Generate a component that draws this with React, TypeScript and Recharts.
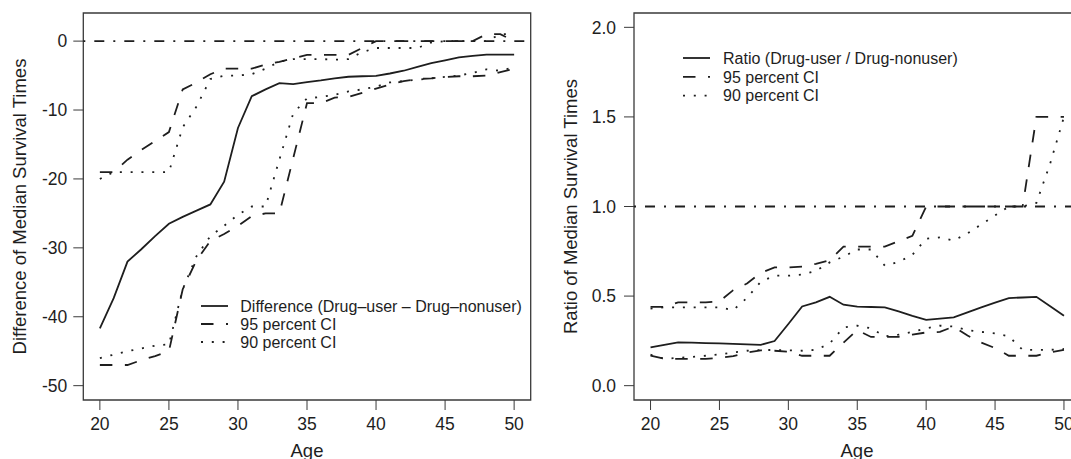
import React from 'react';
import { LineChart, Line, XAxis, YAxis, ReferenceLine, ReferenceArea, Legend } from 'recharts';

// ---------- data ----------
const AGES = [20, 21, 22, 23, 24, 25, 26, 27, 28, 29, 30, 31, 32, 33, 34, 35, 36, 37, 38, 39, 40, 41, 42, 43, 44, 45, 46, 47, 48, 49, 50];

// Left panel: difference of median survival times
const DIFF_EST = [-41.7, -37.3, -32.0, -30.2, -28.3, -26.5, -25.5, -24.6, -23.7, -20.4, -12.6, -8.0, -7.0, -6.1, -6.25, -5.95, -5.7, -5.4, -5.17, -5.1, -5.05, -4.7, -4.3, -3.75, -3.2, -2.8, -2.37, -2.15, -1.95, -1.95, -1.95];
const DIFF_U95 = [-19, -19, -17.2, -15.8, -14.5, -13.2, -7, -6, -4.8, -4, -4, -4, -3.4, -3, -2.5, -2, -2, -2, -2, -1, 0, 0, 0, 0, 0, 0, 0, 0, 1, 1, 0];
const DIFF_L95 = [-47, -47, -47, -46.3, -45.7, -45, -36, -31.8, -29, -28, -26.8, -25.4, -25, -25, -17, -9, -9, -8.2, -8.1, -7.5, -6.9, -6.3, -5.8, -5.5, -5.4, -5.2, -5.1, -5.1, -5.0, -4.5, -4.0];
const DIFF_U90 = [-20, -19, -19, -19, -19, -19, -12.5, -9.5, -5.5, -5.0, -5.0, -4.8, -4.0, -3.0, -2.6, -2.6, -2.6, -2.7, -2.6, -1.6, -1.0, -1.0, -1.0, -1.0, -0.2, 0, 0, 0, 0, 1, 1];
const DIFF_L90 = [-46, -45.5, -45, -44.6, -44.2, -44, -36, -31.2, -28.3, -26.8, -25.2, -24, -24, -17.2, -10.5, -8.3, -8.1, -7.8, -7.3, -7.0, -6.6, -6.0, -5.8, -5.6, -5.4, -5.2, -5.0, -4.6, -4.1, -4.3, -3.8];

// Right panel: ratio of median survival times
const RATIO_EST = [0.214, 0.228, 0.242, 0.24, 0.238, 0.236, 0.233, 0.23, 0.228, 0.249, 0.344, 0.442, 0.465, 0.496, 0.452, 0.441, 0.439, 0.437, 0.415, 0.39, 0.367, 0.374, 0.381, 0.409, 0.437, 0.463, 0.489, 0.492, 0.496, 0.443, 0.39];
const RATIO_U95 = [0.44, 0.44, 0.465, 0.465, 0.465, 0.47, 0.533, 0.57, 0.63, 0.66, 0.66, 0.665, 0.68, 0.70, 0.776, 0.776, 0.776, 0.776, 0.806, 0.836, 1.0, 1.0, 1.0, 1.0, 1.0, 1.0, 1.0, 1.0, 1.5, 1.5, 1.5];
const RATIO_L95 = [0.167, 0.15, 0.149, 0.149, 0.149, 0.155, 0.165, 0.185, 0.197, 0.195, 0.19, 0.167, 0.167, 0.167, 0.24, 0.31, 0.272, 0.272, 0.273, 0.285, 0.297, 0.3, 0.33, 0.28, 0.24, 0.21, 0.167, 0.167, 0.167, 0.185, 0.2];
const RATIO_U90 = [0.43, 0.437, 0.437, 0.437, 0.437, 0.437, 0.422, 0.49, 0.58, 0.614, 0.614, 0.62, 0.64, 0.688, 0.72, 0.76, 0.76, 0.67, 0.69, 0.73, 0.82, 0.828, 0.81, 0.85, 0.9, 0.95, 1.0, 1.0, 1.02, 1.24, 1.5];
const RATIO_L90 = [0.173, 0.15, 0.155, 0.16, 0.167, 0.175, 0.185, 0.195, 0.199, 0.199, 0.197, 0.195, 0.2, 0.235, 0.325, 0.335, 0.32, 0.275, 0.285, 0.3, 0.32, 0.335, 0.33, 0.31, 0.3, 0.292, 0.275, 0.2, 0.2, 0.2, 0.205];

const X_TICKS = [20, 25, 30, 35, 40, 45, 50];
const DIFF_TICKS = [-50, -40, -30, -20, -10, 0];
const RATIO_TICKS = [0, 0.5, 1, 1.5, 2];

const DIFF_LEGEND = ['Difference (Drug\u2013user \u2013 Drug\u2013nonuser)', '95 percent CI', '90 percent CI'];
const RATIO_LEGEND = ['Ratio (Drug-user / Drug-nonuser)', '95 percent CI', '90 percent CI'];

// ---------- styles ----------
const FONT = '"Liberation Sans", Arial, Helvetica, sans-serif';
const INK = '#1e1e1e';
const BOX = '#3a3a3a';
const DASH = '12.5 12.5';
const DOT = '2 8.8';
const DOTDASH = '2 9 10 9';
const LW = 1.8;
const LEGEND_STYLES = [undefined, DASH, DOT];

const X_DOMAIN: [number, number] = [18.8, 51.2];
const DIFF_DOMAIN: [number, number] = [-52.08, 4.08];
const RATIO_DOMAIN: [number, number] = [-0.08, 2.08];

function buildRows(est: number[], u95: number[], l95: number[], u90: number[], l90: number[]) {
  return AGES.map((age, i) => ({ age, est: est[i], u95: u95[i], l95: l95[i], u90: u90[i], l90: l90[i] }));
}

const diffRows = buildRows(DIFF_EST, DIFF_U95, DIFF_L95, DIFF_U90, DIFF_L90);
const ratioRows = buildRows(RATIO_EST, RATIO_U95, RATIO_L95, RATIO_U90, RATIO_L90);

const AxisTitle = (props: any) => {
  const { px, py, rot, text } = props;
  return (
    <text
      x={px}
      y={py}
      transform={rot ? `rotate(${rot} ${px} ${py})` : undefined}
      textAnchor="middle"
      fontFamily={FONT}
      fontSize={18.5}
      fill={INK}
    >
      {text}
    </text>
  );
};

const makeLegend = (labels: string[], rowGap: number, textX: number) => () => (
  <svg width={380} height={70} style={{ display: 'block', overflow: 'visible' }}>
    {labels.map((lab, i) => {
      const y = 8 + i * rowGap;
      return (
        <g key={lab + i}>
          <line x1={0} x2={27} y1={y} y2={y} stroke={INK} strokeWidth={LW} strokeDasharray={LEGEND_STYLES[i]} />
          <text x={textX} y={y} dy="0.36em" fontFamily={FONT} fontSize={16} fill={INK}>
            {lab}
          </text>
        </g>
      );
    })}
  </svg>
);

const tickStyle = { fill: INK, fontSize: 17.5, fontFamily: FONT };

export default function App() {
  return (
    <div style={{ position: 'absolute', left: 0, top: 0, width: 1071, height: 459, overflow: 'hidden', background: '#fff' }}>
      <div style={{ position: 'absolute', left: 0, top: 0 }}>
        <LineChart width={540} height={459} data={diffRows} margin={{ top: 13, right: 9.3, bottom: 0, left: 0 }}>
          <XAxis
            dataKey="age"
            type="number"
            domain={X_DOMAIN}
            ticks={X_TICKS}
            interval={0}
            allowDataOverflow
            axisLine={false}
            tickLine={{ stroke: BOX }}
            tickSize={10}
            tickMargin={8}
            tick={tickStyle}
            height={59}
            label={<AxisTitle px={307} py={457} text="Age" />}
          />
          <YAxis
            type="number"
            domain={DIFF_DOMAIN}
            ticks={DIFF_TICKS}
            interval={0}
            allowDataOverflow
            axisLine={false}
            tickLine={{ stroke: BOX }}
            tickSize={10}
            tickMargin={6}
            tick={tickStyle}
            width={83.3}
            label={<AxisTitle px={26} py={206.5} rot={-90} text="Difference of Median Survival Times" />}
          />
          <ReferenceArea x1={X_DOMAIN[0]} x2={X_DOMAIN[1]} y1={DIFF_DOMAIN[0]} y2={DIFF_DOMAIN[1]} fill="none" fillOpacity={0} stroke={BOX} strokeWidth={1.3} ifOverflow="visible" />
          <ReferenceLine y={0} stroke={INK} strokeWidth={LW} strokeDasharray={DOTDASH} />
          <Line type="linear" dataKey="est" stroke={INK} strokeWidth={LW} dot={false} activeDot={false} isAnimationActive={false} />
          <Line type="linear" dataKey="u95" stroke={INK} strokeWidth={LW} strokeDasharray={DASH} dot={false} activeDot={false} isAnimationActive={false} />
          <Line type="linear" dataKey="l95" stroke={INK} strokeWidth={LW} strokeDasharray={DASH} dot={false} activeDot={false} isAnimationActive={false} />
          <Line type="linear" dataKey="u90" stroke={INK} strokeWidth={LW} strokeDasharray={DOT} dot={false} activeDot={false} isAnimationActive={false} />
          <Line type="linear" dataKey="l90" stroke={INK} strokeWidth={LW} strokeDasharray={DOT} dot={false} activeDot={false} isAnimationActive={false} />
          <Legend
            layout="vertical"
            align="center"
            verticalAlign="middle"
            content={makeLegend(DIFF_LEGEND, 18, 39.3)}
            wrapperStyle={{ position: 'absolute', left: 200.7, top: 298, width: 'auto', height: 'auto', margin: 0, padding: 0 }}
          />
        </LineChart>
      </div>
      <div style={{ position: 'absolute', left: 540, top: 0 }}>
        <LineChart width={560} height={459} data={ratioRows} margin={{ top: 13, right: 19.5, bottom: 0, left: 0 }}>
          <XAxis
            dataKey="age"
            type="number"
            domain={X_DOMAIN}
            ticks={X_TICKS}
            interval={0}
            allowDataOverflow
            axisLine={false}
            tickLine={{ stroke: BOX }}
            tickSize={10}
            tickMargin={8}
            tick={tickStyle}
            height={59}
            label={<AxisTitle px={317} py={457} text="Age" />}
          />
          <YAxis
            type="number"
            domain={RATIO_DOMAIN}
            ticks={RATIO_TICKS}
            interval={0}
            allowDataOverflow
            axisLine={false}
            tickLine={{ stroke: BOX }}
            tickSize={10}
            tickMargin={8}
            tick={tickStyle}
            tickFormatter={(v: number) => v.toFixed(1)}
            width={94}
            label={<AxisTitle px={37} py={206.5} rot={-90} text="Ratio of Median Survival Times" />}
          />
          <ReferenceArea x1={X_DOMAIN[0]} x2={X_DOMAIN[1]} y1={RATIO_DOMAIN[0]} y2={RATIO_DOMAIN[1]} fill="none" fillOpacity={0} stroke={BOX} strokeWidth={1.3} ifOverflow="visible" />
          <ReferenceLine y={1} stroke={INK} strokeWidth={LW} strokeDasharray={DOTDASH} />
          <Line type="linear" dataKey="est" stroke={INK} strokeWidth={LW} dot={false} activeDot={false} isAnimationActive={false} />
          <Line type="linear" dataKey="u95" stroke={INK} strokeWidth={LW} strokeDasharray={DASH} dot={false} activeDot={false} isAnimationActive={false} />
          <Line type="linear" dataKey="l95" stroke={INK} strokeWidth={LW} strokeDasharray={DASH} dot={false} activeDot={false} isAnimationActive={false} />
          <Line type="linear" dataKey="u90" stroke={INK} strokeWidth={LW} strokeDasharray={DOT} dot={false} activeDot={false} isAnimationActive={false} />
          <Line type="linear" dataKey="l90" stroke={INK} strokeWidth={LW} strokeDasharray={DOT} dot={false} activeDot={false} isAnimationActive={false} />
          <Legend
            layout="vertical"
            align="center"
            verticalAlign="middle"
            content={makeLegend(RATIO_LEGEND, 18.8, 40)}
            wrapperStyle={{ position: 'absolute', left: 142.9, top: 50.3, width: 'auto', height: 'auto', margin: 0, padding: 0 }}
          />
        </LineChart>
      </div>
    </div>
  );
}
